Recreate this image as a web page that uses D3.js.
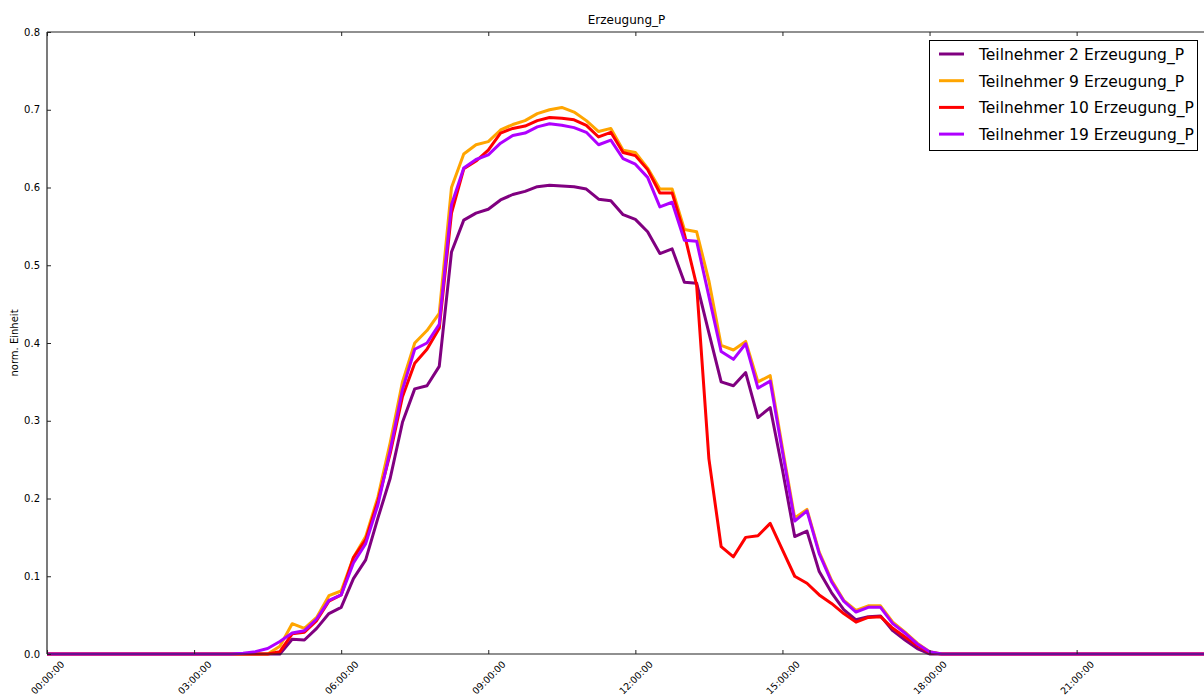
<!DOCTYPE html>
<html>
<head>
<meta charset="utf-8">
<script src="https://cdn.jsdelivr.net/npm/d3@7"></script>
<style>
  html, body { margin: 0; padding: 0; background: #fff; }
  svg { display: block; font-family: "DejaVu Sans", sans-serif; }
</style>
</head>
<body>
<svg id="chart" width="1204" height="697"></svg>
<script>
// ---- data: 15-minute steps from 00:00 (index i -> i*0.25 h) ----
const stepHours = 0.25;
const seriesNames = [
  "Teilnehmer 2 Erzeugung_P",
  "Teilnehmer 9 Erzeugung_P",
  "Teilnehmer 10 Erzeugung_P",
  "Teilnehmer 19 Erzeugung_P"
];
const seriesColors = ["#800080", "#FFA500", "#FF0000", "#AF00FF"];

const zeros = n => Array(n).fill(0);

const t2 = [].concat(zeros(20), [
  0.019, 0.018, 0.033, 0.052, 0.060, 0.097, 0.121, 0.175, 0.226, 0.298,
  0.341, 0.345, 0.370, 0.517, 0.558, 0.567, 0.572, 0.584, 0.591, 0.595,
  0.601, 0.603, 0.602, 0.601, 0.598, 0.585, 0.583, 0.565, 0.559, 0.543,
  0.515, 0.521, 0.478, 0.477, 0.413, 0.350, 0.345, 0.362, 0.304, 0.317,
  0.237, 0.151, 0.158, 0.106, 0.079, 0.057, 0.044, 0.048, 0.049, 0.030,
  0.018, 0.007, 0.000
], zeros(23));

const t9 = [].concat(zeros(19), [
  0.010,
  0.039, 0.033, 0.047, 0.075, 0.081, 0.124, 0.151, 0.202, 0.272, 0.350,
  0.400, 0.416, 0.438, 0.600, 0.643, 0.655, 0.659, 0.674, 0.681, 0.686,
  0.695, 0.700, 0.703, 0.697, 0.686, 0.672, 0.676, 0.648, 0.645, 0.625,
  0.598, 0.598, 0.546, 0.543, 0.480, 0.397, 0.391, 0.402, 0.350, 0.358,
  0.265, 0.175, 0.186, 0.131, 0.095, 0.069, 0.056, 0.062, 0.062, 0.041,
  0.028, 0.014, 0.003, 0.000
], zeros(22));

const t10 = [].concat(zeros(19), [
  0.003,
  0.026, 0.028, 0.043, 0.068, 0.076, 0.124, 0.147, 0.197, 0.258, 0.331,
  0.374, 0.392, 0.419, 0.567, 0.624, 0.634, 0.648, 0.670, 0.676, 0.679,
  0.686, 0.690, 0.689, 0.687, 0.680, 0.665, 0.671, 0.645, 0.641, 0.623,
  0.593, 0.593, 0.540, 0.474, 0.251, 0.138, 0.125, 0.150, 0.152, 0.168,
  0.134, 0.100, 0.091, 0.076, 0.065, 0.052, 0.041, 0.047, 0.048, 0.033,
  0.022, 0.011, 0.002, 0.000
], zeros(22));

const t19 = [].concat(zeros(16), [
  0.001, 0.003, 0.007, 0.016,
  0.027, 0.030, 0.045, 0.069, 0.076, 0.117, 0.142, 0.192, 0.262, 0.340,
  0.392, 0.400, 0.424, 0.578, 0.625, 0.636, 0.642, 0.657, 0.667, 0.670,
  0.678, 0.682, 0.680, 0.677, 0.671, 0.655, 0.661, 0.637, 0.630, 0.613,
  0.575, 0.581, 0.532, 0.531, 0.460, 0.389, 0.379, 0.399, 0.342, 0.351,
  0.260, 0.171, 0.184, 0.129, 0.093, 0.068, 0.054, 0.060, 0.060, 0.039,
  0.027, 0.013, 0.003, 0.000
], zeros(22));

const seriesValues = [t2, t9, t10, t19];

const xTickHours = [0, 3, 6, 9, 12, 15, 18, 21];
const xTickLabels = ["00:00:00", "03:00:00", "06:00:00", "09:00:00",
                     "12:00:00", "15:00:00", "18:00:00", "21:00:00"];
const yTicks = [0.0, 0.1, 0.2, 0.3, 0.4, 0.5, 0.6, 0.7, 0.8];

const titleText = "Erzeugung_P";
const yLabelText = "norm. Einheit";

// ---- layout ----
const svg = d3.select("#chart");
const mLeft = 47, mTop = 32, mBottom = 654, mRight = 1206;
const x = d3.scaleLinear().domain([0, 24]).range([mLeft, mLeft + 24 * 49.03]);
const y = d3.scaleLinear().domain([0, 0.8]).range([mBottom, mTop]);

// lines
const line = d3.line()
  .x((d, i) => x(i * stepHours))
  .y(d => y(d));

const plot = svg.append("g");
seriesValues.forEach((vals, k) => {
  plot.append("path")
    .datum(vals)
    .attr("d", line)
    .attr("fill", "none")
    .attr("stroke", seriesColors[k])
    .attr("stroke-width", 3)
    .attr("stroke-linejoin", "round");
});

// frame (spines)
const axisColor = "#222";
svg.append("line").attr("x1", mLeft).attr("x2", 1204).attr("y1", mTop).attr("y2", mTop)
  .attr("stroke", axisColor).attr("stroke-width", 1.2);
svg.append("line").attr("x1", mLeft).attr("x2", 1204).attr("y1", mBottom).attr("y2", mBottom)
  .attr("stroke", axisColor).attr("stroke-width", 1.2);
svg.append("line").attr("x1", mLeft).attr("x2", mLeft).attr("y1", mTop).attr("y2", mBottom)
  .attr("stroke", axisColor).attr("stroke-width", 1.2);

// x axis ticks (inside, top and bottom) + rotated labels
const xAxisBottom = d3.axisBottom(x).tickValues(xTickHours).tickSizeInner(-4).tickSizeOuter(0)
  .tickFormat((d, i) => xTickLabels[i]);
svg.append("g").attr("transform", `translate(0,${mBottom})`).call(xAxisBottom)
  .call(g => g.select(".domain").remove())
  .call(g => g.selectAll("line").attr("stroke", axisColor))
  .call(g => g.selectAll("text")
    .attr("font-size", 9.5).attr("fill", "#000").attr("font-family", "DejaVu Sans")
    .attr("x", null).attr("y", null).attr("dy", null)
    .attr("text-anchor", "middle")
    .attr("dominant-baseline", "central")
    .attr("transform", "translate(0,23.5) rotate(-45)"));

const xAxisTop = d3.axisTop(x).tickValues(xTickHours).tickSizeInner(-4).tickSizeOuter(0)
  .tickFormat("");
svg.append("g").attr("transform", `translate(0,${mTop})`).call(xAxisTop)
  .call(g => g.select(".domain").remove())
  .call(g => g.selectAll("line").attr("stroke", axisColor));

// y axis ticks
const yAxis = d3.axisLeft(y).tickValues(yTicks).tickSizeInner(-4).tickSizeOuter(0).tickPadding(7)
  .tickFormat(d3.format(".1f"));
svg.append("g").attr("transform", `translate(${mLeft},0)`).call(yAxis)
  .call(g => g.select(".domain").remove())
  .call(g => g.selectAll("line").attr("stroke", axisColor))
  .call(g => g.selectAll("text").attr("font-size", 10).attr("fill", "#000")
    .attr("font-family", "DejaVu Sans"));

// title
svg.append("text").attr("x", (mLeft + mRight) / 2).attr("y", 24)
  .attr("text-anchor", "middle").attr("font-size", 12).attr("fill", "#000")
  .text(titleText);

// y label
svg.append("text").attr("transform", `translate(18,${(mTop + mBottom) / 2}) rotate(-90)`)
  .attr("text-anchor", "middle").attr("font-size", 10).attr("fill", "#000")
  .text(yLabelText);

// legend
const lg = svg.append("g");
lg.append("rect").attr("x", 929.5).attr("y", 40.5).attr("width", 268).attr("height", 110)
  .attr("fill", "#fff").attr("stroke", "#000").attr("stroke-width", 1);
seriesNames.forEach((name, k) => {
  const yy = 54 + k * 26.7;
  lg.append("line").attr("x1", 939).attr("x2", 964).attr("y1", yy).attr("y2", yy)
    .attr("stroke", seriesColors[k]).attr("stroke-width", 3);
  lg.append("text").attr("x", 979).attr("y", yy + 6)
    .attr("font-size", 15.5).attr("fill", "#000").text(name);
});
</script>
</body>
</html>
